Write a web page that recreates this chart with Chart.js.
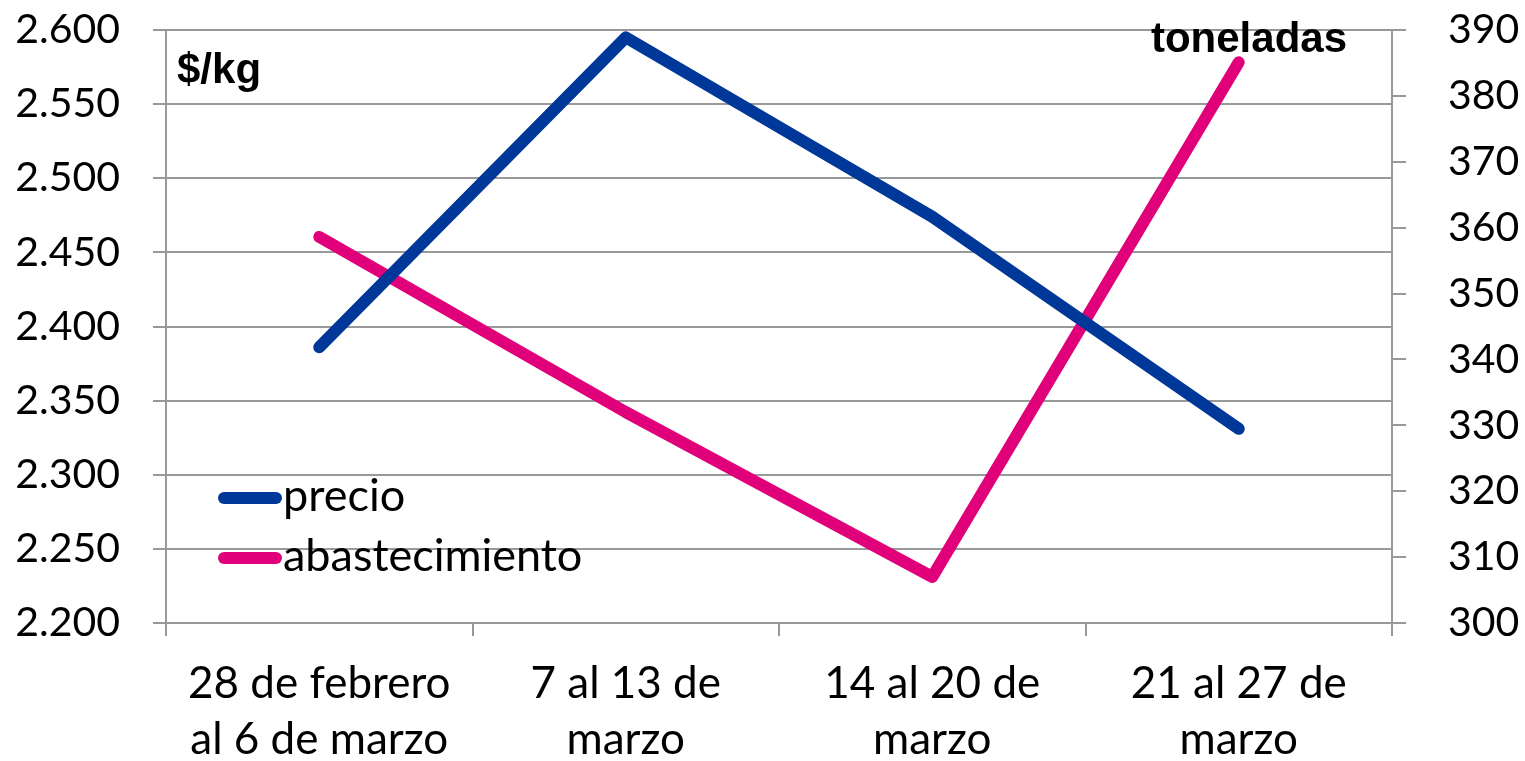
<!DOCTYPE html>
<html>
<head>
<meta charset="utf-8">
<script src="https://cdn.jsdelivr.net/npm/chart.js@4"></script>
<style>
  body { margin: 0; background: #fff; }
  canvas { display: block; }
</style>
</head>
<body>
<canvas id="myChart" width="1525" height="761"></canvas>
<script>
'use strict';

// Datos
const semanas = [
  ['28 de febrero', 'al 6 de marzo'],
  ['7 al 13 de', 'marzo'],
  ['14 al 20 de', 'marzo'],
  ['21 al 27 de', 'marzo']
];
const precio = [2386, 2595, 2474, 2331];          // $/kg
const abastecimiento = [358.6, 332, 307, 385.1];  // toneladas

const AZUL = '#00389A';
const ROSA = '#E0007A';
const GRIS = '#999999';
const fuente = 'Lato, "Open Sans", sans-serif';

// separador de miles con punto (2.600)
function miles(v) {
  return String(Math.round(v)).replace(/\B(?=(\d{3})+$)/g, '.');
}

// titulos de ejes y leyenda dibujados dentro del area
const extras = {
  id: 'extras',
  afterDraw(chart) {
    const c = chart.ctx;
    const a = chart.chartArea;
    c.save();
    c.fillStyle = '#000';
    c.font = 'bold 42px "Liberation Sans", Arial, sans-serif';
    c.textBaseline = 'alphabetic';
    c.textAlign = 'left';
    c.fillText('$/kg', a.left + 11, a.top + 53);
    c.textAlign = 'right';
    c.fillText('toneladas', a.right - 45, a.top + 22);

    // leyenda
    c.font = '45px ' + fuente;
    c.textAlign = 'left';
    chart.data.datasets.forEach((ds, i) => {
      const y = a.top + 468 + i * 60;
      c.strokeStyle = ds.borderColor;
      c.lineWidth = 12;
      c.lineCap = 'round';
      c.beginPath();
      c.moveTo(a.left + 58, y);
      c.lineTo(a.left + 110, y);
      c.stroke();
      c.fillText(ds.label, a.left + 117, y + 13);
    });
    c.restore();
  }
};

// sin relleno extra arriba/abajo por las etiquetas
function sinRelleno(axis) {
  axis.paddingTop = 0;
  axis.paddingBottom = 0;
}

const ctx = document.getElementById('myChart').getContext('2d');
const myChart = new Chart(ctx, {
  type: 'line',
  data: {
    labels: semanas,
    datasets: [{
      label: 'precio',
      data: precio,
      yAxisID: 'y',
      borderColor: AZUL,
      backgroundColor: AZUL,
      borderWidth: 12,
      borderCapStyle: 'round',
      borderJoinStyle: 'round',
      pointRadius: 0,
      tension: 0
    }, {
      label: 'abastecimiento',
      data: abastecimiento,
      yAxisID: 'y2',
      borderColor: ROSA,
      backgroundColor: ROSA,
      borderWidth: 12,
      borderCapStyle: 'round',
      borderJoinStyle: 'round',
      pointRadius: 0,
      tension: 0
    }]
  },
  options: {
    responsive: false,
    devicePixelRatio: 1,
    animation: false,
    layout: { padding: { top: 30, left: 0, right: 0, bottom: 0 } },
    plugins: {
      legend: { display: false },
      tooltip: { enabled: false }
    },
    scales: {
      x: {
        offset: true,
        grid: { offset: true, drawOnChartArea: false, color: GRIS, lineWidth: 2, tickLength: 13 },
        border: { color: GRIS, width: 2 },
        ticks: { color: '#000', font: { family: fuente, size: 44, lineHeight: 1.27 }, padding: 20, maxRotation: 0 },
        afterFit(axis) { axis.height = 138; axis.paddingLeft = 0; axis.paddingRight = 0; }
      },
      y: {
        position: 'left',
        min: 2200,
        max: 2600,
        grid: { color: GRIS, lineWidth: 2, tickLength: 13 },
        border: { color: GRIS, width: 2 },
        ticks: { stepSize: 50, color: '#000', font: { family: fuente, size: 41 }, padding: 33, callback: v => miles(v) },
        afterFit(axis) { axis.width = 166; sinRelleno(axis); }
      },
      y2: {
        position: 'right',
        min: 300,
        max: 390,
        grid: { drawOnChartArea: false, color: GRIS, lineWidth: 2, tickLength: 14 },
        border: { color: GRIS, width: 2 },
        ticks: { stepSize: 10, color: '#000', font: { family: fuente, size: 41 }, padding: 42 },
        afterFit(axis) { axis.width = 133; sinRelleno(axis); }
      }
    }
  },
  plugins: [extras]
});
</script>
</body>
</html>
